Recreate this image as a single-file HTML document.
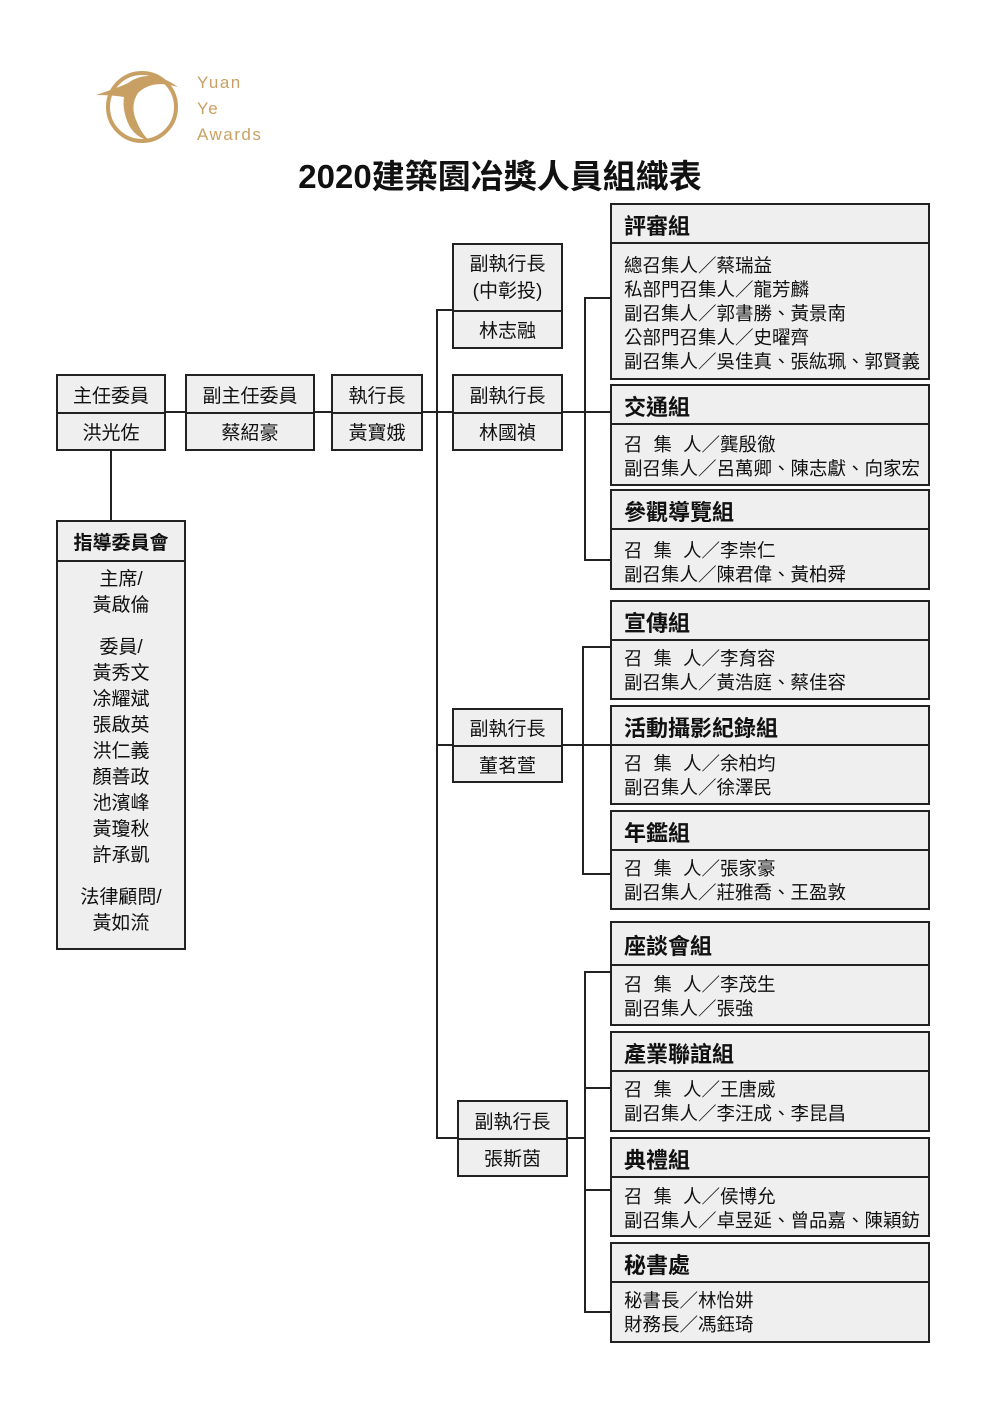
<!DOCTYPE html>
<html><head><meta charset="utf-8">
<style>
html,body{margin:0;padding:0;background:#fff;}
body{width:1000px;height:1415px;position:relative;overflow:hidden;font-family:"Liberation Sans","Noto Sans CJK TC",sans-serif;color:#111;}
.b{position:absolute;box-sizing:border-box;border:2px solid #222;background:#efefef;}
.h{position:absolute;left:0;right:0;border-bottom:2px solid #222;box-sizing:border-box;}
.c{display:flex;align-items:center;justify-content:center;font-size:19px;}
.l{position:absolute;background:#222;}
.gh{position:absolute;left:12px;font-size:22px;font-weight:bold;}
.gb{position:absolute;left:12px;font-size:18.5px;line-height:24px;white-space:nowrap;}
.s{display:inline-block;margin-right:11px;}
</style></head><body>

<!-- logo -->
<svg style="position:absolute;left:90px;top:65px" width="100" height="85" viewBox="0 0 100 85">
<circle cx="52" cy="42" r="34" fill="none" stroke="#c9a063" stroke-width="4"/>
<path d="M6 30 Q30 22 38 18 Q60 2 88 22 Q62 14 48 28 Q40 40 46 55 Q52 70 60 76 Q44 72 38 58 Q32 44 34 32 Q22 30 6 30Z" fill="#c9a063"/>
</svg>
<div style="position:absolute;left:197px;top:70px;color:#c9a063;font-size:17px;line-height:26px;letter-spacing:1.5px;">Yuan<br>Ye<br>Awards</div>

<div style="position:absolute;left:0;width:1000px;top:150px;text-align:center;font-size:33px;font-weight:bold;">2020建築園冶獎人員組織表</div>

<!-- lines -->
<div class="l" style="left:165px;top:411px;width:445px;height:2px"></div>
<div class="l" style="left:110px;top:450px;width:2px;height:70px"></div>
<div class="l" style="left:436px;top:309px;width:2px;height:830px"></div>
<div class="l" style="left:436px;top:309px;width:16px;height:2px"></div>
<div class="l" style="left:436px;top:744px;width:174px;height:2px"></div>
<div class="l" style="left:436px;top:1137px;width:21px;height:2px"></div>
<div class="l" style="left:567px;top:1137px;width:18px;height:2px"></div>
<div class="l" style="left:584px;top:297px;width:2px;height:264px"></div>
<div class="l" style="left:584px;top:297px;width:26px;height:2px"></div>
<div class="l" style="left:584px;top:559px;width:26px;height:2px"></div>
<div class="l" style="left:582px;top:646px;width:2px;height:229px"></div>
<div class="l" style="left:582px;top:646px;width:28px;height:2px"></div>
<div class="l" style="left:582px;top:873px;width:28px;height:2px"></div>
<div class="l" style="left:584px;top:971px;width:2px;height:342px"></div>
<div class="l" style="left:584px;top:971px;width:26px;height:2px"></div>
<div class="l" style="left:584px;top:1087px;width:26px;height:2px"></div>
<div class="l" style="left:584px;top:1189px;width:26px;height:2px"></div>
<div class="l" style="left:584px;top:1311px;width:26px;height:2px"></div>

<!-- top row boxes -->
<div class="b" style="left:56px;top:374px;width:110px;height:77px">
<div class="h c" style="top:0;height:38px">主任委員</div><div class="c" style="position:absolute;left:0;right:0;top:38px;bottom:0">洪光佐</div></div>
<div class="b" style="left:185px;top:374px;width:130px;height:77px">
<div class="h c" style="top:0;height:38px">副主任委員</div><div class="c" style="position:absolute;left:0;right:0;top:38px;bottom:0">蔡紹豪</div></div>
<div class="b" style="left:331px;top:374px;width:92px;height:77px">
<div class="h c" style="top:0;height:38px">執行長</div><div class="c" style="position:absolute;left:0;right:0;top:38px;bottom:0">黃寶娥</div></div>

<div class="b" style="left:452px;top:243px;width:111px;height:106px">
<div class="h c" style="top:0;height:67px;line-height:27px;text-align:center">副執行長<br>(中彰投)</div><div class="c" style="position:absolute;left:0;right:0;top:67px;bottom:0">林志融</div></div>
<div class="b" style="left:452px;top:374px;width:111px;height:77px">
<div class="h c" style="top:0;height:38px">副執行長</div><div class="c" style="position:absolute;left:0;right:0;top:38px;bottom:0">林國禎</div></div>
<div class="b" style="left:452px;top:708px;width:111px;height:75px">
<div class="h c" style="top:0;height:37px">副執行長</div><div class="c" style="position:absolute;left:0;right:0;top:37px;bottom:0">董茗萱</div></div>
<div class="b" style="left:457px;top:1100px;width:111px;height:77px">
<div class="h c" style="top:0;height:38px">副執行長</div><div class="c" style="position:absolute;left:0;right:0;top:38px;bottom:0">張斯茵</div></div>

<!-- steering committee -->
<div class="b" style="left:56px;top:520px;width:130px;height:430px">
<div class="h c" style="top:0;height:40px;font-weight:bold">指導委員會</div>
<div style="position:absolute;left:0;right:0;top:45px;text-align:center;font-size:19px;line-height:26px">主席/<br>黃啟倫<div style="height:16px"></div>委員/<br>黃秀文<br>凃耀斌<br>張啟英<br>洪仁義<br>顏善政<br>池濱峰<br>黃瓊秋<br>許承凱<div style="height:16px"></div>法律顧問/<br>黃如流</div>
</div>

<!-- groups -->
<div class="b" style="left:610px;top:203px;width:320px;height:177px">
<div class="h" style="top:0;height:39px"><div class="gh" style="top:4px">評審組</div></div>
<div class="gb" style="top:49px">總召集人／蔡瑞益<br>私部門召集人／龍芳麟<br>副召集人／郭書勝、黃景南<br>公部門召集人／史曜齊<br>副召集人／吳佳真、張紘珮、郭賢義</div></div>

<div class="b" style="left:610px;top:384px;width:320px;height:102px">
<div class="h" style="top:0;height:39px"><div class="gh" style="top:4px">交通組</div></div>
<div class="gb" style="top:47px"><span class="s">召</span><span class="s">集</span>人／龔殷徹<br>副召集人／呂萬卿、陳志獻、向家宏</div></div>

<div class="b" style="left:610px;top:489px;width:320px;height:101px">
<div class="h" style="top:0;height:39px"><div class="gh" style="top:4px">參觀導覽組</div></div>
<div class="gb" style="top:48px"><span class="s">召</span><span class="s">集</span>人／李崇仁<br>副召集人／陳君偉、黃柏舜</div></div>

<div class="b" style="left:610px;top:600px;width:320px;height:100px">
<div class="h" style="top:0;height:39px"><div class="gh" style="top:4px">宣傳組</div></div>
<div class="gb" style="top:45px"><span class="s">召</span><span class="s">集</span>人／李育容<br>副召集人／黃浩庭、蔡佳容</div></div>

<div class="b" style="left:610px;top:705px;width:320px;height:100px">
<div class="h" style="top:0;height:39px"><div class="gh" style="top:4px">活動攝影紀錄組</div></div>
<div class="gb" style="top:45px"><span class="s">召</span><span class="s">集</span>人／余柏均<br>副召集人／徐澤民</div></div>

<div class="b" style="left:610px;top:810px;width:320px;height:100px">
<div class="h" style="top:0;height:39px"><div class="gh" style="top:4px">年鑑組</div></div>
<div class="gb" style="top:45px"><span class="s">召</span><span class="s">集</span>人／張家豪<br>副召集人／莊雅喬、王盈敦</div></div>

<div class="b" style="left:610px;top:921px;width:320px;height:105px">
<div class="h" style="top:0;height:43px"><div class="gh" style="top:6px">座談會組</div></div>
<div class="gb" style="top:50px"><span class="s">召</span><span class="s">集</span>人／李茂生<br>副召集人／張強</div></div>

<div class="b" style="left:610px;top:1031px;width:320px;height:101px">
<div class="h" style="top:0;height:39px"><div class="gh" style="top:4px">產業聯誼組</div></div>
<div class="gb" style="top:45px"><span class="s">召</span><span class="s">集</span>人／王唐威<br>副召集人／李汪成、李昆昌</div></div>

<div class="b" style="left:610px;top:1137px;width:320px;height:100px">
<div class="h" style="top:0;height:39px"><div class="gh" style="top:4px">典禮組</div></div>
<div class="gb" style="top:46px"><span class="s">召</span><span class="s">集</span>人／侯博允<br>副召集人／卓昱延、曾品嘉、陳穎鈁</div></div>

<div class="b" style="left:610px;top:1242px;width:320px;height:101px">
<div class="h" style="top:0;height:39px"><div class="gh" style="top:4px">秘書處</div></div>
<div class="gb" style="top:45px">秘書長／林怡妌<br>財務長／馮鈺琦</div></div>

</body></html>
